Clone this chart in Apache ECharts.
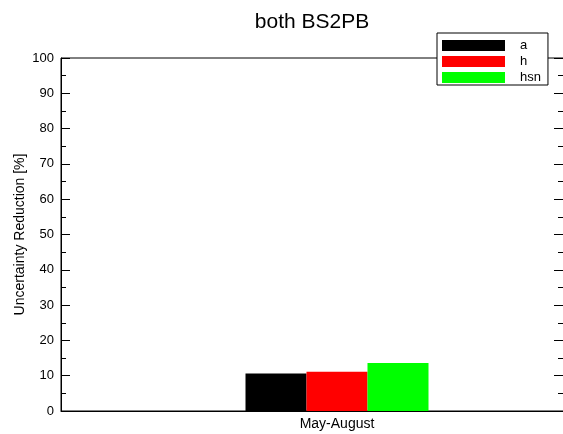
<!DOCTYPE html>
<html>
<head>
<meta charset="utf-8">
<style>html,body{margin:0;padding:0;background:#fff}#c{width:563px;height:434px}</style>
<script src="https://cdn.jsdelivr.net/npm/echarts@6/dist/echarts.min.js"></script>
</head>
<body>
<div id="c"></div>
<script>
// Categories and series values
const categories = ['May-August'];
const seriesNames = ['a', 'h', 'hsn'];
const seriesColors = ['#000000', '#ff0000', '#00ff00'];
const valuesA = [10.6];
const valuesH = [11.1];
const valuesHsn = [13.6];
const yTicks = [0, 10, 20, 30, 40, 50, 60, 70, 80, 90, 100];

const font = 'Liberation Sans, Arial, Helvetica, sans-serif';
const chart = echarts.init(document.getElementById('c'));
const allValues = [valuesA, valuesH, valuesHsn];

const tickStyle = { color: '#000', width: 1 };

chart.setOption({
  animation: false,
  backgroundColor: '#fff',
  title: {
    text: 'both BS2PB',
    left: 307, textAlign: 'center', top: 7,
    textStyle: { fontFamily: font, fontSize: 21, fontWeight: 'normal', color: '#000' }
  },
  legend: {
    orient: 'vertical',
    left: 437, top: 33,
    padding: [6, 7, 1, 5],
    itemWidth: 63, itemHeight: 11, itemGap: 3,
    icon: 'rect',
    backgroundColor: '#fff',
    borderColor: '#000', borderWidth: 1,
    textStyle: { fontFamily: font, fontSize: 13, lineHeight: 12, color: '#000', padding: [0, 0, 0, 10] },
    data: seriesNames
  },
  grid: {
    left: 61, top: 58, width: 552, height: 353,
    outerBoundsMode: 'none',
    containLabel: false,
    show: true, borderColor: '#000', borderWidth: 1
  },
  xAxis: {
    type: 'category',
    data: categories,
    axisLine: { lineStyle: { color: '#000' } },
    axisTick: { show: false },
    axisLabel: { fontFamily: font, fontSize: 14, color: '#000', margin: 6 }
  },
  yAxis: [{
    type: 'value', min: yTicks[0], max: yTicks[yTicks.length - 1], interval: 10,
    position: 'left',
    axisLine: { show: true, lineStyle: { color: '#000' } },
    axisTick: { show: true, inside: true, length: 9, lineStyle: tickStyle },
    minorTick: { show: true, splitNumber: 2, length: 5, lineStyle: tickStyle },
    splitLine: { show: false },
    axisLabel: { fontFamily: font, fontSize: 13, color: '#000', margin: 7 },
    name: 'Uncertainty Reduction [%]',
    nameLocation: 'middle', nameGap: 34,
    nameMoveOverlap: false,
    nameTextStyle: { fontFamily: font, fontSize: 14, color: '#000' }
  }, {
    type: 'value', min: yTicks[0], max: yTicks[yTicks.length - 1], interval: 10,
    position: 'right', offset: -50,
    axisLine: { show: false },
    axisTick: { show: true, inside: true, length: 9, lineStyle: tickStyle },
    minorTick: { show: true, splitNumber: 2, length: 5, lineStyle: tickStyle },
    splitLine: { show: false },
    axisLabel: { show: false }
  }],
  series: seriesNames.map((n, i) => ({
    name: n,
    type: 'bar',
    data: allValues[i],
    barWidth: 61,
    barGap: '0%',
    itemStyle: { color: seriesColors[i] }
  }))
});
</script>
</body>
</html>
